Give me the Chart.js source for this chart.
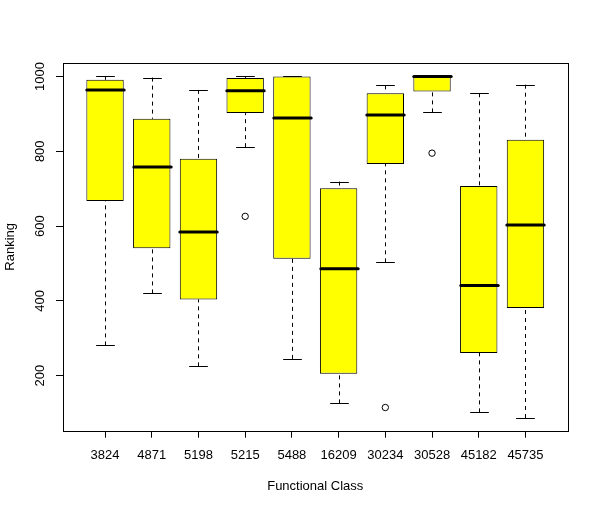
<!DOCTYPE html>
<html>
<head>
<meta charset="utf-8">
<script src="https://cdn.jsdelivr.net/npm/chart.js@4.4.1/dist/chart.umd.min.js"></script>
<style>
  html, body { margin: 0; padding: 0; background: #fff; }
  #wrap { width: 600px; height: 511px; }
</style>
</head>
<body>
<div id="wrap"><canvas id="chart"></canvas></div>
<script>
// boxplot statistics
const categories   = ['3824', '4871', '5198', '5215', '5488', '16209', '30234', '30528', '45182', '45735'];
const lowerWhisker = [281, 420, 225, 811, 245, 126, 503, 904, 102, 87];
const lowerQuart   = [667, 541, 404, 902, 513, 205, 766, 960, 261, 381];
const medians      = [964, 758, 584, 962, 889, 486, 897, 1000, 441, 603];
const upperQuart   = [991, 887, 780, 996, 1000, 701, 955, 1000, 707, 831];
const upperWhisker = [1000, 997, 964, 1000, 1000, 719, 976, 1000, 955, 978];
const outlierClass = [4, 7, 8];
const outlierValue = [626, 115, 795];
const yTicks = [200, 400, 600, 800, 1000];

const FONT = 'Liberation Sans, Arial, Helvetica, sans-serif';

// whiskers, staples and median lines
const boxExtras = {
    id: 'boxExtras',
    afterDatasetsDraw(chart) {
        const ctx = chart.ctx;
        const xs = chart.scales.x, ys = chart.scales.y;
        const unit = xs.getPixelForValue(2) - xs.getPixelForValue(1);
        ctx.save();
        ctx.strokeStyle = '#000';
        categories.forEach((c, i) => {
            const x = Math.round(xs.getPixelForValue(i + 1)) + 0.5;
            const half = unit * 0.2;
            // dashed whiskers
            ctx.lineWidth = 1;
            ctx.setLineDash([4, 4]);
            ctx.beginPath();
            ctx.moveTo(x, ys.getPixelForValue(lowerWhisker[i]));
            ctx.lineTo(x, ys.getPixelForValue(lowerQuart[i]));
            ctx.moveTo(x, ys.getPixelForValue(upperWhisker[i]));
            ctx.lineTo(x, ys.getPixelForValue(upperQuart[i]));
            ctx.stroke();
            // staples
            ctx.setLineDash([]);
            ctx.beginPath();
            [lowerWhisker[i], upperWhisker[i]].forEach(v => {
                const y = Math.round(ys.getPixelForValue(v)) + 0.5;
                ctx.moveTo(x - half, y);
                ctx.lineTo(x + half, y);
            });
            ctx.stroke();
            // median
            ctx.lineWidth = 3;
            ctx.lineCap = 'round';
            ctx.beginPath();
            const ym = ys.getPixelForValue(medians[i]);
            ctx.moveTo(x - unit * 0.4, ym);
            ctx.lineTo(x + unit * 0.4, ym);
            ctx.stroke();
            ctx.lineCap = 'butt';
        });
        ctx.restore();
    },
    afterDraw(chart) {
        const a = chart.chartArea;
        const ctx = chart.ctx;
        ctx.save();
        ctx.strokeStyle = '#000';
        ctx.lineWidth = 1;
        ctx.strokeRect(Math.round(a.left) + 0.5, Math.round(a.top) + 0.5,
            Math.round(a.right - a.left), Math.round(a.bottom - a.top));
        ctx.restore();
    }
};

const ctx = document.getElementById('chart').getContext('2d');
new Chart(ctx, {
    type: 'bar',
    data: {
        datasets: [{
            label: 'box',
            data: categories.map((c, i) => ({ x: i + 1, y: [lowerQuart[i], upperQuart[i]] })),
            backgroundColor: '#ffff00',
            borderColor: '#000',
            borderWidth: 1,
            borderSkipped: false,
            barPercentage: 0.8,
            categoryPercentage: 1
        }, {
            type: 'scatter',
            label: 'outliers',
            data: outlierClass.map((c, i) => ({ x: c, y: outlierValue[i] })),
            pointRadius: 3.2,
            pointStyle: 'circle',
            borderColor: '#000',
            borderWidth: 1,
            backgroundColor: 'rgba(0,0,0,0)'
        }]
    },
    options: {
        responsive: true,
        maintainAspectRatio: false,
        animation: false,
        layout: { padding: { left: 0, right: 32.5, top: 63, bottom: 0 } },
        plugins: { legend: { display: false }, tooltip: { enabled: false } },
        scales: {
            x: {
                type: 'linear',
                min: 0.1,
                max: 10.9,
                offset: false,
                afterBuildTicks: axis => { axis.ticks = categories.map((c, i) => ({ value: i + 1 })); },
                afterFit: scale => { scale.height = 80.3; },
                grid: { display: true, drawOnChartArea: false, drawTicks: true, tickLength: 7, color: '#000', offset: false },
                border: { display: false },
                ticks: {
                    autoSkip: false, maxRotation: 0, minRotation: 0, padding: 10,
                    color: '#000', font: { family: FONT, size: 13 },
                    callback: (v, idx) => categories[idx]
                },
                title: {
                    display: true, text: 'Functional Class', color: '#000',
                    font: { family: FONT, size: 13 }, padding: { top: 0, bottom: 16.5 }
                }
            },
            y: {
                min: 53,
                max: 1036,
                afterBuildTicks: axis => { axis.ticks = yTicks.map(v => ({ value: v })); },
                afterFit: scale => { scale.width = 63; },
                grid: { display: true, drawOnChartArea: false, drawTicks: true, tickLength: 7, color: '#000' },
                border: { display: false },
                ticks: {
                    minRotation: 90, maxRotation: 90, crossAlign: 'center', padding: 1.5,
                    color: '#000', font: { family: FONT, size: 13 },
                    callback: v => String(v)
                },
                title: {
                    display: true, text: 'Ranking', color: '#000',
                    font: { family: FONT, size: 13 }, padding: { top: 2.2, bottom: 0 }
                }
            }
        }
    },
    plugins: [boxExtras]
});
</script>
</body>
</html>
